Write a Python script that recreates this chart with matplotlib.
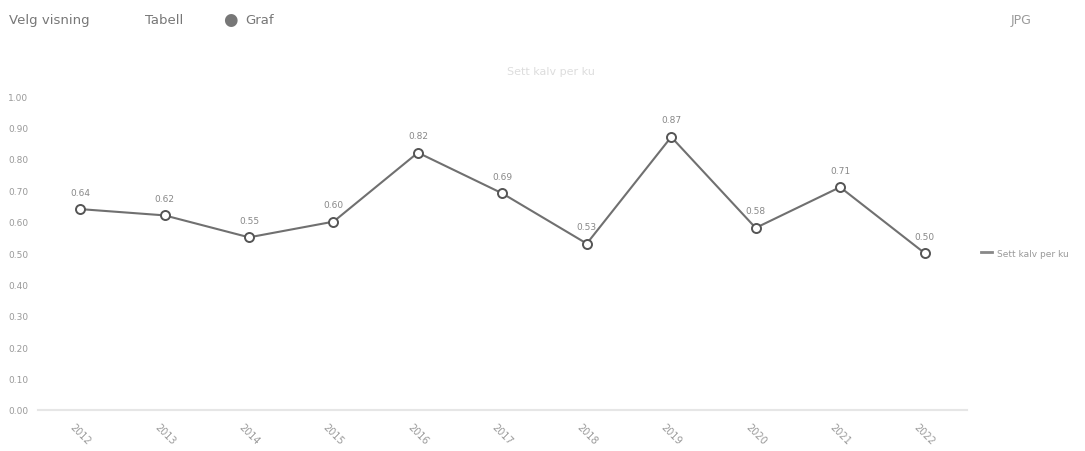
import matplotlib.pyplot as plt
import numpy as np

years = ['2012', '2013', '2014', '2015', '2016', '2017', '2018', '2019', '2020', '2021', '2022']
values = [0.64, 0.62, 0.55, 0.60, 0.82, 0.69, 0.53, 0.87, 0.58, 0.71, 0.50]
series_name = 'Sett kalv per ku'
y_ticks = [0.0, 0.1, 0.2, 0.3, 0.4, 0.5, 0.6, 0.7, 0.8, 0.9, 1.0]

plt.rcParams['font.family'] = ['DejaVu Sans']

fig = plt.figure(figsize=(10.85, 4.52), dpi=100)
ax = fig.add_axes([0.035, 0.091, 0.856, 0.694])

x = np.arange(len(years))
ax.plot(x, values, color='#707070', linewidth=1.5,
        marker='o', markersize=6.5, markerfacecolor='white',
        markeredgecolor='#555555', markeredgewidth=1.4, label=series_name)

for xi, v in zip(x, values):
    ax.annotate(f'{v:.2f}', (xi, v), xytext=(0, 9), textcoords='offset points',
                ha='center', va='bottom', fontsize=6.5, color='#888888')

ax.set_xlim(-0.5, len(years) - 0.5)
ax.set_ylim(0, 1.0)
ax.set_xticks(x)
ax.set_xticklabels(years, rotation=-45, ha='center', fontsize=7, color='#999999')
ax.set_yticks(y_ticks)
ax.set_yticklabels([f'{t:.2f}' for t in y_ticks], fontsize=6.5, color='#999999', ha='left')
ax.tick_params(axis='y', length=0, pad=21.5)
ax.tick_params(axis='x', length=0, pad=8)

for s in ['top', 'right', 'left']:
    ax.spines[s].set_visible(False)
ax.spines['bottom'].set_color('#e6e6e6')
ax.spines['bottom'].set_linewidth(1.5)

# chart title, centred on the whole figure
fig.text(0.508, 0.84, series_name, fontsize=8, color='#dddddd', ha='center', va='center')

leg = fig.legend(handles=[plt.Line2D([], [], color='#888888', linewidth=2)],
                 labels=[series_name], loc='center left', bbox_to_anchor=(0.897, 0.438),
                 frameon=False, fontsize=6.5, handlelength=1.2, handletextpad=0.5)
for t in leg.get_texts():
    t.set_color('#999999')

# header controls
fig.text(0.008, 0.955, 'Velg visning', fontsize=9.5, color='#777777', va='center')
fig.text(0.134, 0.955, 'Tabell', fontsize=9.5, color='#777777', va='center')
fig.text(0.206, 0.955, '\u25cf', fontsize=12, color='#777777', va='center')
fig.text(0.226, 0.955, 'Graf', fontsize=9.5, color='#777777', va='center')
fig.text(0.931, 0.955, 'JPG', fontsize=9, color='#999999', va='center')

fig.savefig('out.png', dpi=100)
